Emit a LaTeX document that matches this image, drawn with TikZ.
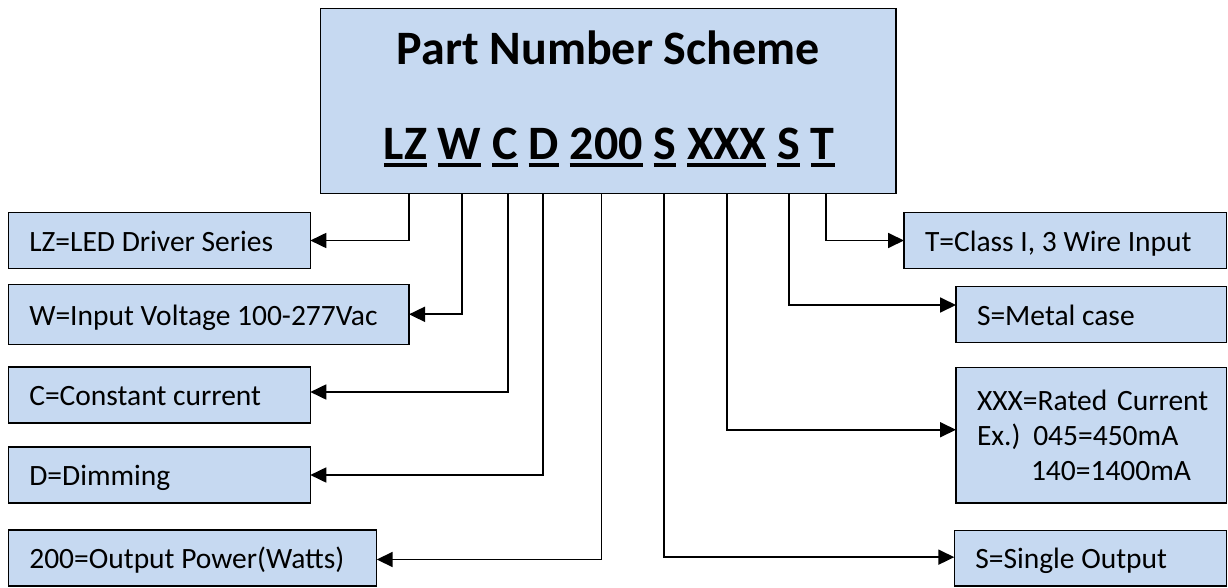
\documentclass[tikz,border=0pt]{standalone}
\usepackage{fontspec}
\setmainfont{Carlito}
\usetikzlibrary{arrows.meta}
\definecolor{boxblue}{RGB}{198,217,241}
\newcommand{\ulpart}[1]{\setbox0\hbox{#1}\rlap{\rule[-7.6pt]{\wd0}{3.6pt}}\box0\relax}
\begin{document}
\begin{tikzpicture}[x=1pt,y=-1pt,
  every node/.style={inner sep=0pt,outer sep=0pt},
  labelbox/.style={draw=black,line width=1.3pt,fill=boxblue,anchor=north west,
    inner xsep=21pt,font=\fontsize{29.5}{35}\selectfont,
    text height=21.5pt,text depth=0pt},
  bigtext/.style={anchor=base,font=\fontsize{48}{48}\selectfont\bfseries},
  conn/.style={line width=1.8pt,-{Triangle[length=16pt,width=15pt]}}]
\useasboundingbox (0,0) rectangle (1228,588);

% main box
\node[draw=black,line width=1.3pt,fill=boxblue,anchor=north west,
  minimum width=575.3pt,minimum height=185.2pt] (main) at (320.7,8.3) {};
\node[bigtext] (title) at (608.4,64.3) {Part Number Scheme};
\node[bigtext] (code) at (609.2,159.3) {\ulpart{LZ} \ulpart{W} \ulpart{C} \ulpart{D} \ulpart{200} \ulpart{S} \ulpart{XXX} \ulpart{S} \ulpart{T}};

% left boxes
\node[labelbox,minimum width=302pt,minimum height=55.6pt] (lz) at (8.3,212.7) {\makebox[260pt][l]{LZ=LED Driver Series}};
\node[labelbox,minimum width=400.7pt,minimum height=60pt] (w) at (8.3,284.3) {\makebox[358.7pt][l]{W=Input Voltage 100-277Vac}};
\node[labelbox,minimum width=302pt,minimum height=56pt] (c) at (8.3,367) {\makebox[260pt][l]{C=Constant current}};
\node[labelbox,minimum width=302pt,minimum height=56pt] (d) at (8.3,447) {\makebox[260pt][l]{D=Dimming}};
\node[labelbox,minimum width=368.4pt,minimum height=56pt] (p) at (8.3,530) {\makebox[326.4pt][l]{200=Output Power(Watts)}};

% right boxes
\node[labelbox,minimum width=322.7pt,minimum height=55.6pt] (t) at (904,212.7) {\makebox[280.7pt][l]{T=Class I, 3 Wire Input}};
\node[labelbox,minimum width=270.7pt,minimum height=56pt] (sm) at (956,286.7) {\makebox[228.7pt][l]{S=Metal case}};
\node[labelbox,minimum width=270.7pt,minimum height=135.3pt,align=left,text width=228.7pt,text height=,text depth=] (xxx) at (956,367.7)
  {\makebox[228.7pt][l]{XXX=Rated Current}\\\makebox[228.7pt][l]{\makebox[56.3pt][l]{Ex.)}045=450mA}\\\makebox[228.7pt][l]{\hspace*{54pt}140=1400mA}};
\node[labelbox,minimum width=272.4pt,minimum height=55.7pt] (ss) at (954.3,530.3) {\makebox[230.4pt][l]{S=Single Output}};

% connectors
\draw[conn] ([xshift=88.3pt]main.south west) |- (lz.east);
\draw[conn] ([xshift=141.6pt]main.south west) |- (w.east);
\draw[conn] ([xshift=187.3pt]main.south west) |- ([yshift=3pt]c.east);
\draw[conn] ([xshift=222.3pt]main.south west) |- (d.east);
\draw[conn] ([xshift=280.8pt]main.south west) |- ([yshift=-1.5pt]p.east);
\draw[conn] ([xshift=343pt]main.south west) |- ([yshift=1pt]ss.west);
\draw[conn] ([xshift=406pt]main.south west) |- ([yshift=5.6pt]xxx.west);
\draw[conn] ([xshift=468.3pt]main.south west) |- ([yshift=9.7pt]sm.west);
\draw[conn] ([xshift=505.3pt]main.south west) |- (t.west);
\end{tikzpicture}
\end{document}
